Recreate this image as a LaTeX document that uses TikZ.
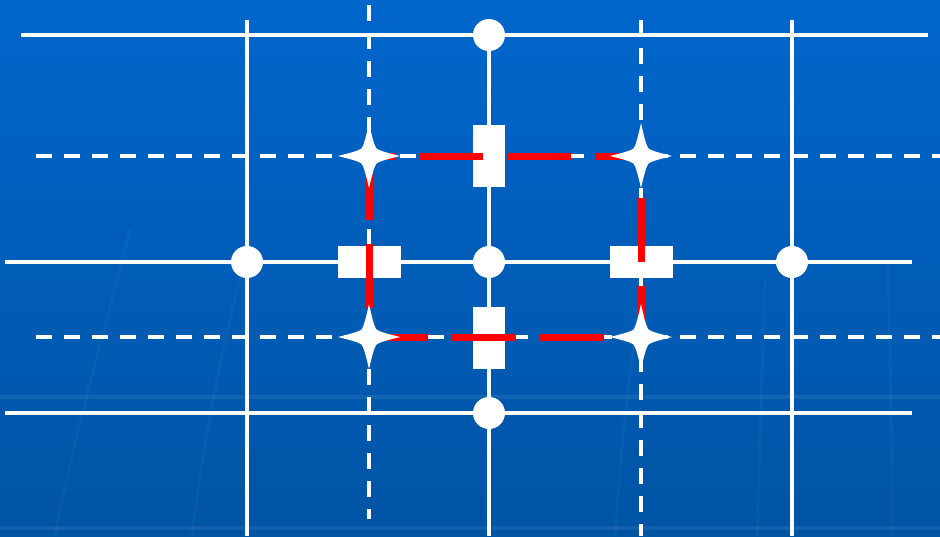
\documentclass[tikz,border=0pt]{standalone}
\definecolor{bgtop}{RGB}{0,102,204}
\definecolor{bgbot}{RGB}{0,84,164}
\definecolor{loopred}{RGB}{255,0,0}
\tikzset{
  gridsolid/.style={white, line width=3.5pt},
  griddash/.style={white, line width=3.5pt, dash pattern=on 16pt off 12pt},
  joint/.style={circle, fill=white, minimum size=32pt, inner sep=0pt},
  vbar/.style={rectangle, fill=white, minimum width=32pt, minimum height=62pt, inner sep=0pt},
  hbar/.style={rectangle, fill=white, minimum width=63pt, minimum height=32pt, inner sep=0pt},
  redloop/.style={loopred, line width=7pt, dash pattern=on 64pt off 24pt},
  streak/.style={white, opacity=0.03, line width=3pt},
  band/.style={white, opacity=0.07, line width=4pt},
  sparkle/.pic={\fill[white]
     (0,-33) .. controls (3.5,-17) and (5.5,-10) .. (7.5,-7.5)
             .. controls (10,-5.5) and (17,-3.5) .. (31,0)
             .. controls (17,3.5) and (10,5.5) .. (7.5,7.5)
             .. controls (5.5,10) and (3.5,17) .. (0,32)
             .. controls (-3.5,17) and (-5.5,10) .. (-7.5,7.5)
             .. controls (-10,5.5) and (-17,3.5) .. (-31,0)
             .. controls (-17,-3.5) and (-10,-5.5) .. (-7.5,-7.5)
             .. controls (-5.5,-10) and (-3.5,-17) .. cycle;}
}
\begin{document}
\begin{tikzpicture}[x=1pt,y=-1pt]
\useasboundingbox (0,0) rectangle (940,536);
\shade[top color=bgtop, bottom color=bgbot] (0,0) rectangle (940,536);
% faint background texture
\draw[band] (0,397) -- (940,397);
\draw[band] (0,528) -- (940,528);
\draw[streak] (130,230) .. controls (105,330) and (75,430) .. (55,536);
\draw[streak] (250,240) .. controls (225,330) and (205,430) .. (192,536);
\draw[streak] (640,300) .. controls (628,380) and (620,460) .. (615,536);
\draw[streak] (765,280) .. controls (762,380) and (759,460) .. (757,536);
\draw[streak] (888,260) .. controls (890,350) and (892,440) .. (892,536);
% grid end points
\coordinate (h1w) at (21,35);  \coordinate (h1e) at (928,35);
\coordinate (h2w) at (5,262);  \coordinate (h2e) at (912,262);
\coordinate (h3w) at (5,413);  \coordinate (h3e) at (912,413);
\coordinate (d1w) at (36,156); \coordinate (d1e) at (940,156);
\coordinate (d2w) at (36,337); \coordinate (d2e) at (940,337);
\coordinate (v1n) at (247,20); \coordinate (v1s) at (247,536);
\coordinate (v2n) at (489,35); \coordinate (v2s) at (489,536);
\coordinate (v3n) at (792,20); \coordinate (v3s) at (792,536);
\coordinate (e1n) at (369,5);  \coordinate (e1s) at (369,519);
\coordinate (e2n) at (641,20); \coordinate (e2s) at (641,536);
% grid lines
\draw[gridsolid] (h1w) -- (h1e);
\draw[gridsolid] (h2w) -- (h2e);
\draw[gridsolid] (h3w) -- (h3e);
\draw[gridsolid] (v1n) -- (v1s);
\draw[gridsolid] (v2n) -- (v2s);
\draw[gridsolid] (v3n) -- (v3s);
\draw[griddash] (d1w) -- (d1e);
\draw[griddash] (d2w) -- (d2e);
\draw[griddash] (e1n) -- (e1s);
\draw[griddash] (e2n) -- (e2s);
% circles
\node[joint] (c1) at (489,35) {};
\node[joint] (c2) at (247,262) {};
\node[joint] (c3) at (489,262) {};
\node[joint] (c4) at (792,262) {};
\node[joint] (c5) at (489,413) {};
% bars
\node[vbar] (vtop) at (489,156) {};
\node[vbar] (vbot) at (489,338) {};
\node[hbar] (hleft) at (369,262) {};
\node[hbar] (hright) at (641,262) {};
% red loop
\coordinate (s1) at (369,156);
\coordinate (s2) at (641,156);
\coordinate (s3) at (369,337);
\coordinate (s4) at (641,337);
\draw[redloop] (s1) -- (s3) -- (s4) -- (s2) -- cycle;
% stars
\pic at (s1) {sparkle};
\pic at (s2) {sparkle};
\pic at (s3) {sparkle};
\pic at (s4) {sparkle};
\end{tikzpicture}
\end{document}
